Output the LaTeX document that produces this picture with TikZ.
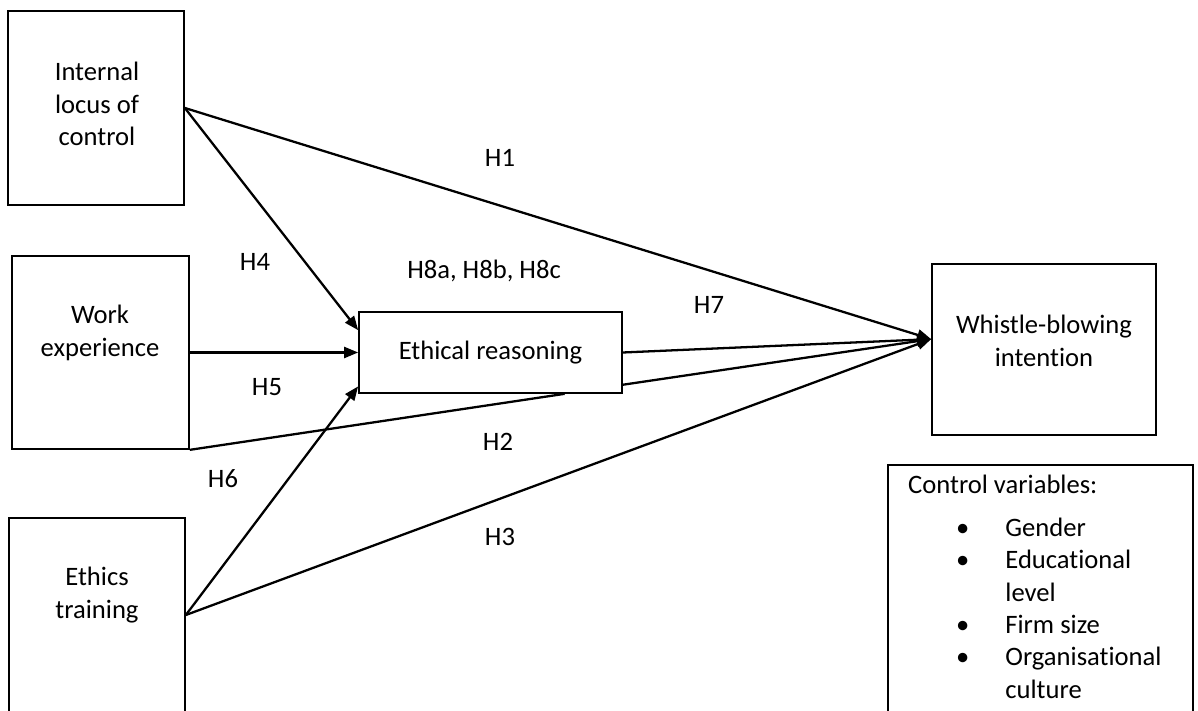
\documentclass[tikz,border=0pt]{standalone}
\usepackage{fontspec}
\setmainfont{Carlito}[Ligatures=NoCommon]
\usetikzlibrary{arrows.meta,calc,positioning}

\tikzset{
  var/.style={draw, rectangle, line width=0.48pt, fill=white},
  txt/.style={align=center, inner sep=0pt},
  hyp/.style={inner sep=0pt},
  >={Triangle[length=1.4mm,width=1.1mm]}
}

\begin{document}
\begin{tikzpicture}[font=\fontsize{7.57}{9.2}\selectfont, line width=0.65pt]
	\useasboundingbox (0,0) rectangle (11.98,-7.11);
	\clip (0,0) rectangle (11.98,-7.11);
	% variables
	\node[var, minimum width=1.76cm, minimum height=1.94cm] (locus) at (0.96,-1.08) {};
	\node[var, minimum width=1.77cm, minimum height=1.93cm] (work) at (1.005,-3.525) {};
	\node[var, minimum width=1.76cm, minimum height=1.94cm] (ethics) at (0.97,-6.15) {};
	\node[var, minimum width=2.63cm, minimum height=0.81cm] (reason) at (4.905,-3.525) {Ethical reasoning};
	\node[var, minimum width=2.24cm, minimum height=1.71cm] (intent) at (10.44,-3.495) {};
	\node[var, minimum width=3.05cm, minimum height=2.65cm] (control) at (10.405,-5.975) {};
	\node[txt] (locustxt) at (0.97,-1.04) {Internal\\locus of\\control};
	\node[txt] (worktxt) at (1.00,-3.33) {Work\\experience};
	\node[txt] (ethicstxt) at (0.97,-5.95) {Ethics\\training};
	\node[txt] (intenttxt) at (10.44,-3.41) {Whistle-blowing\\intention};
	\node[hyp, anchor=base west] (cvtitle) at (9.07,-4.935) {Control variables:};
	\node[hyp, anchor=base west] (cvlist) at (9.55,-5.365) {\begin{tabular}[t]{@{}c@{\hspace{3.6mm}}l@{}}
		•&Gender\\
		•&Educational\\
		&level\\
		•&Firm size\\
		•&Organisational\\
		&culture
	\end{tabular}};
	% paths
	\coordinate (tip) at ($(intent.north west)!0.44!(intent.south west)$);
	\draw[->] (locus.east) -- (tip);
	\draw[->] (locus.east) -- ($(reason.north west)!0.23!(reason.south west)$);
	\draw[->] (work.east) -- (reason.west);
	\draw (work.south east) -- ($(reason.south west)!0.78!(reason.south east)$);
	\draw[->] ($(reason.north east)!0.89!(reason.south east)$) -- (tip);
	\draw[->] (reason.east) -- (tip);
	\draw[->] (ethics.east) -- ($(reason.north west)!0.91!(reason.south west)$);
	\draw[->] (ethics.east) -- (tip);
	% hypotheses
	\node[hyp] (h1) at (5.00,-1.58) {H1};
	\node[hyp] (h4) at (2.55,-2.62) {H4};
	\node[hyp] (h8) at (4.84,-2.71) {H8a, H8b, H8c};
	\node[hyp] (h7) at (7.09,-3.05) {H7};
	\node[hyp] (h5) at (2.67,-3.87) {H5};
	\node[hyp] (h2) at (4.98,-4.42) {H2};
	\node[hyp] (h6) at (2.23,-4.79) {H6};
	\node[hyp] (h3) at (5.00,-5.37) {H3};

\end{tikzpicture}
\end{document}
